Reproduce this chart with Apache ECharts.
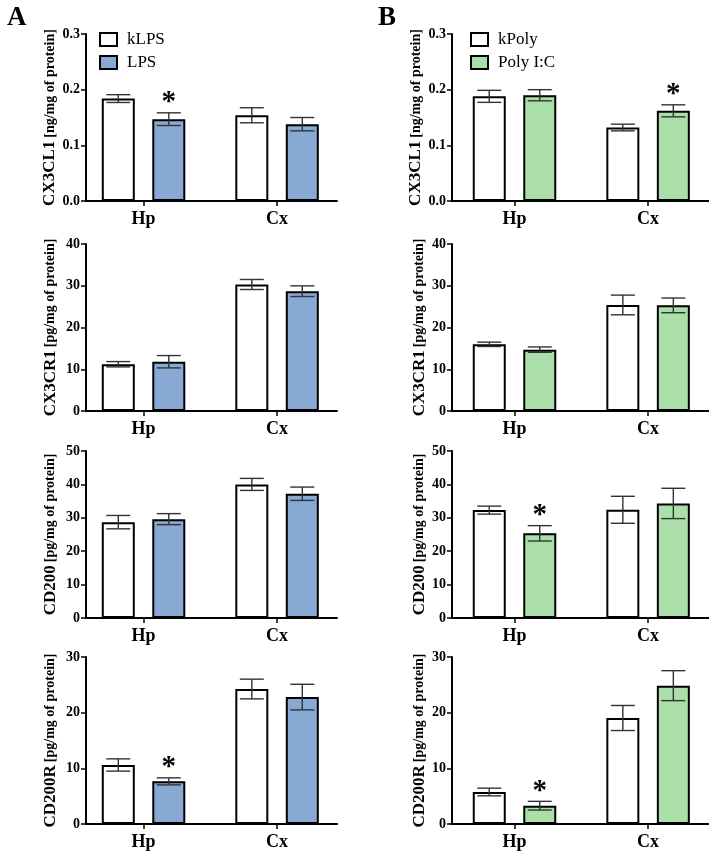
<!DOCTYPE html>
<html>
<head>
<meta charset="utf-8">
<script src="https://cdn.jsdelivr.net/npm/echarts@6/dist/echarts.min.js"></script>
<style>
html,body{margin:0;padding:0;background:#fff;}
#chart{width:709px;height:852px;}
</style>
</head>
<body>
<div id="chart"></div>
<script>
// ---------- DATA ----------
const groups = ['Hp', 'Cx'];
const markers = ['CX3CL1', 'CX3CR1', 'CD200', 'CD200R'];
const units = ['ng/mg of protein', 'pg/mg of protein', 'pg/mg of protein', 'pg/mg of protein'];
const yMax = [0.3, 40, 50, 30];
const yStep = [0.1, 10, 10, 10];

// Panel A: kLPS (control) vs LPS
const A_CX3CL1_k = [0.184, 0.154];   const A_CX3CL1_k_err = [0.007, 0.0135];
const A_CX3CL1_t = [0.147, 0.138];   const A_CX3CL1_t_err = [0.0114, 0.012];
const A_CX3CL1_sig = [1, 0];
const A_CX3CR1_k = [11.2, 30.3];     const A_CX3CR1_k_err = [0.64, 1.2];
const A_CX3CR1_t = [11.8, 28.7];     const A_CX3CR1_t_err = [1.48, 1.28];
const A_CX3CR1_sig = [0, 0];
const A_CD200_k = [28.7, 40.0];      const A_CD200_k_err = [2.0, 1.8];
const A_CD200_t = [29.6, 37.2];      const A_CD200_t_err = [1.65, 2.0];
const A_CD200_sig = [0, 0];
const A_CD200R_k = [10.6, 24.25];    const A_CD200R_k_err = [1.1, 1.77];
const A_CD200R_t = [7.66, 22.8];     const A_CD200R_t_err = [0.63, 2.3];
const A_CD200R_sig = [1, 0];

// Panel B: kPoly (control) vs Poly I:C
const B_CX3CL1_k = [0.188, 0.132];   const B_CX3CL1_k_err = [0.0108, 0.006];
const B_CX3CL1_t = [0.190, 0.162];   const B_CX3CL1_t_err = [0.010, 0.0108];
const B_CX3CL1_sig = [0, 1];
const B_CX3CR1_k = [15.97, 25.4];    const B_CX3CR1_k_err = [0.52, 2.36];
const B_CX3CR1_t = [14.7, 25.3];     const B_CX3CR1_t_err = [0.64, 1.76];
const B_CX3CR1_sig = [0, 0];
const B_CD200_k = [32.3, 32.4];      const B_CD200_k_err = [1.2, 4.04];
const B_CD200_t = [25.35, 34.3];     const B_CD200_t_err = [2.3, 4.54];
const B_CD200_sig = [1, 0];
const B_CD200R_k = [5.75, 19.04];    const B_CD200R_k_err = [0.69, 2.25];
const B_CD200R_t = [3.29, 24.85];    const B_CD200R_t_err = [0.78, 2.69];
const B_CD200R_sig = [1, 0];

const seriesNamesA = ['kLPS', 'LPS'];
const seriesNamesB = ['kPoly', 'Poly I:C'];

// ---------- STYLE / LAYOUT ----------
const SERIF = '"Liberation Serif", "Times New Roman", serif';
const COLOR_A = '#89a9d5';
const COLOR_B = '#aadfaa';
const rowTops = [34, 244, 451, 657];
const rowH = 167;
const colLayout = [
  { left: 86, width: 251, xmin: -0.431, xmax: 1.449, nameGap: 27 },
  { left: 452, width: 257, xmin: -0.468, xmax: 1.456, nameGap: 19 }
];
const BAR_W = 33;
const BAR_GAP = 0.53;
const BAR_OFF = (BAR_W + BAR_W * BAR_GAP) / 2;

const panels = [
  [
    [A_CX3CL1_k, A_CX3CL1_k_err, A_CX3CL1_t, A_CX3CL1_t_err, A_CX3CL1_sig],
    [A_CX3CR1_k, A_CX3CR1_k_err, A_CX3CR1_t, A_CX3CR1_t_err, A_CX3CR1_sig],
    [A_CD200_k, A_CD200_k_err, A_CD200_t, A_CD200_t_err, A_CD200_sig],
    [A_CD200R_k, A_CD200R_k_err, A_CD200R_t, A_CD200R_t_err, A_CD200R_sig]
  ],
  [
    [B_CX3CL1_k, B_CX3CL1_k_err, B_CX3CL1_t, B_CX3CL1_t_err, B_CX3CL1_sig],
    [B_CX3CR1_k, B_CX3CR1_k_err, B_CX3CR1_t, B_CX3CR1_t_err, B_CX3CR1_sig],
    [B_CD200_k, B_CD200_k_err, B_CD200_t, B_CD200_t_err, B_CD200_sig],
    [B_CD200R_k, B_CD200R_k_err, B_CD200R_t, B_CD200R_t_err, B_CD200R_sig]
  ]
];

const grids = [], xAxes = [], yAxes = [], series = [];
let idx = 0;
for (let c = 0; c < 2; c++) {
  const L = colLayout[c];
  const names = c === 0 ? seriesNamesA : seriesNamesB;
  const fill = c === 0 ? COLOR_A : COLOR_B;
  for (let r = 0; r < 4; r++) {
    const [k, kErr, t, tErr, sig] = panels[c][r];
    grids.push({ left: L.left, width: L.width, top: rowTops[r], height: rowH, containLabel: false });
    xAxes.push({
      gridIndex: idx, type: 'value', min: L.xmin, max: L.xmax,
      splitLine: { show: false },
      axisLine: { show: true, onZero: false, lineStyle: { color: '#000', width: 2 } },
      axisTick: { show: true, customValues: [0, 1], length: 5, lineStyle: { color: '#000', width: 1.5 } },
      axisLabel: {
        customValues: [0, 1], margin: 9,
        formatter: v => groups[Math.round(v)],
        fontFamily: SERIF, fontWeight: 'bold', fontSize: 18, color: '#000'
      }
    });
    const dec = yStep[r] < 1 ? 1 : 0;
    yAxes.push({
      gridIndex: idx, type: 'value', min: 0, max: yMax[r], interval: yStep[r],
      splitLine: { show: false },
      axisLine: { show: true, onZero: false, lineStyle: { color: '#000', width: 2 } },
      axisTick: { show: true, length: 5, lineStyle: { color: '#000', width: 1.5 } },
      axisLabel: {
        margin: 6, formatter: v => v.toFixed(dec),
        fontFamily: SERIF, fontWeight: 'bold', fontSize: 14, color: '#000'
      },
      name: '{a|' + markers[r] + '} {b|[' + units[r] + ']}',
      nameLocation: 'middle', nameRotate: 90, nameGap: L.nameGap,
      nameTextStyle: {
        fontFamily: SERIF, fontWeight: 'bold', color: '#000',
        rich: {
          a: { fontFamily: SERIF, fontWeight: 'bold', fontSize: 17, color: '#000' },
          b: { fontFamily: SERIF, fontWeight: 'bold', fontSize: 14, color: '#000' }
        }
      }
    });
    const barCommon = {
      type: 'bar', xAxisIndex: idx, yAxisIndex: idx,
      barWidth: BAR_W, barGap: (BAR_GAP * 100) + '%',
      z: 2
    };
    series.push(Object.assign({}, barCommon, {
      name: names[0],
      itemStyle: { color: '#fff', borderColor: '#000', borderWidth: 2 },
      data: groups.map((g, i) => [i, k[i]])
    }));
    series.push(Object.assign({}, barCommon, {
      name: names[1],
      itemStyle: { color: fill, borderColor: '#000', borderWidth: 2 },
      data: groups.map((g, i) => [i, t[i]])
    }));
    const errData = [];
    groups.forEach((g, i) => {
      errData.push([i, k[i], kErr[i], 0, 0]);
      errData.push([i, t[i], tErr[i], 1, sig[i]]);
    });
    series.push({
      type: 'custom', xAxisIndex: idx, yAxisIndex: idx, z: 5, clip: false,
      silent: true,
      encode: { x: 0, y: 1 },
      data: errData,
      renderItem: function (params, api) {
        const x = api.value(0), m = api.value(1), e = api.value(2);
        const side = api.value(3), s = api.value(4);
        const top = api.coord([x, m + e]);
        const bot = api.coord([x, m - e]);
        const cx = top[0] + (side ? BAR_OFF : -BAR_OFF);
        const ls = { stroke: '#333', lineWidth: 1.4 };
        const children = [
          { type: 'line', shape: { x1: cx, y1: top[1], x2: cx, y2: bot[1] }, style: ls },
          { type: 'line', shape: { x1: cx - 12, y1: top[1], x2: cx + 12, y2: top[1] }, style: ls },
          { type: 'line', shape: { x1: cx - 12, y1: bot[1], x2: cx + 12, y2: bot[1] }, style: ls }
        ];
        if (s) {
          children.push({
            type: 'text', x: cx, y: top[1] - 10,
            style: {
              text: '*', fill: '#000', font: 'bold 29px ' + SERIF,
              textAlign: 'center', textVerticalAlign: 'middle'
            }
          });
        }
        return { type: 'group', children: children };
      }
    });
    idx++;
  }
}

const legendCommon = {
  orient: 'vertical', top: 31, padding: 0, itemWidth: 17, itemHeight: 13, itemGap: 6,
  icon: 'rect',
  textStyle: { fontFamily: SERIF, fontSize: 17, lineHeight: 17, color: '#000', padding: [0, 0, 0, 5] }
};

const option = {
  backgroundColor: '#fff',
  animation: false,
  title: [
    { text: 'A', left: 2, top: 0, textStyle: { fontFamily: SERIF, fontWeight: 'bold', fontSize: 27, color: '#000' } },
    { text: 'B', left: 373, top: 0, textStyle: { fontFamily: SERIF, fontWeight: 'bold', fontSize: 27, color: '#000' } }
  ],
  legend: [
    Object.assign({}, legendCommon, { left: 99, data: seriesNamesA }),
    Object.assign({}, legendCommon, { left: 470, data: seriesNamesB })
  ],
  grid: grids,
  xAxis: xAxes,
  yAxis: yAxes,
  series: series
};

const chart = echarts.init(document.getElementById('chart'), null, { renderer: 'canvas' });
chart.setOption(option);
</script>
</body>
</html>
